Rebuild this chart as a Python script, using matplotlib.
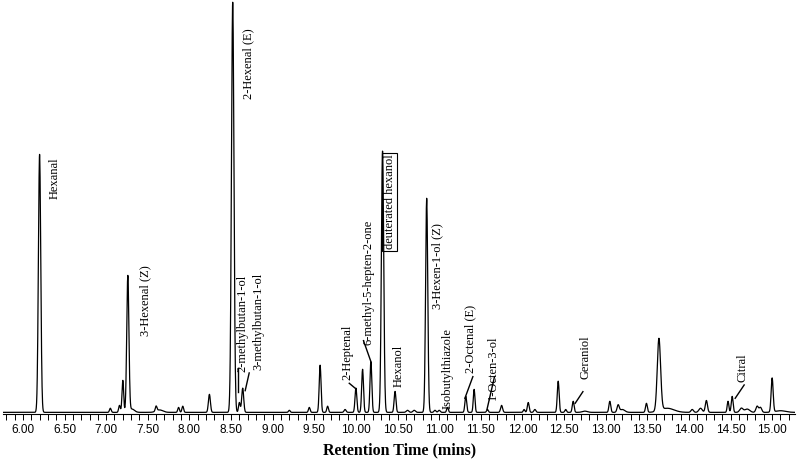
import numpy as np
import matplotlib
matplotlib.use("Agg")
import matplotlib.pyplot as plt
from matplotlib.ticker import MultipleLocator, FormatStrFormatter

# ---- data: detected peaks (retention time, relative abundance, peak sigma) ----
peak_times = [6.20, 7.05, 7.16, 7.20, 7.26, 7.31, 7.60, 7.64, 7.87, 7.92, 8.24,
              8.52, 8.60, 8.64, 9.20, 9.44, 9.57, 9.66, 9.87,
              10.00, 10.08, 10.18, 10.32, 10.47, 10.62, 10.70, 10.85, 10.95, 11.00, 11.10,
              11.32, 11.42, 11.58, 11.75, 12.02, 12.07, 12.15, 12.43, 12.52, 12.61,
              12.75, 13.05, 13.15, 13.20, 13.49, 13.64, 13.74, 14.04, 14.14, 14.21,
              14.47, 14.52, 14.63, 14.70, 14.82, 14.86, 15.00, 15.10]
peak_heights = [62.9, 1.0, 1.7, 7.8, 33.2, 0.8, 1.2, 0.6, 1.2, 1.5, 4.4,
                100.0, 2.4, 5.9, 0.5, 1.2, 11.5, 1.5, 0.7,
                5.9, 10.5, 12.4, 63.7, 5.1, 0.5, 0.5, 52.2, 0.5, 0.5, 1.2,
                3.9, 5.6, 0.7, 1.7, 0.7, 2.4, 0.7, 7.6, 0.7, 2.7,
                0.3, 2.7, 1.7, 0.7, 2.2, 17.6, 1.0, 0.7, 1.0, 2.9,
                2.7, 3.9, 1.0, 0.8, 1.5, 1.2, 8.3, 0.4]
peak_sigmas = [0.014, 0.010, 0.010, 0.010, 0.013, 0.030, 0.010, 0.040, 0.010, 0.010, 0.012,
               0.015, 0.010, 0.012, 0.010, 0.010, 0.011, 0.010, 0.012,
               0.011, 0.011, 0.011, 0.014, 0.011, 0.015, 0.015, 0.013, 0.012, 0.012, 0.010,
               0.011, 0.010, 0.010, 0.012, 0.010, 0.011, 0.012, 0.011, 0.010, 0.011,
               0.030, 0.011, 0.013, 0.030, 0.011, 0.020, 0.080, 0.015, 0.020, 0.013,
               0.010, 0.011, 0.020, 0.030, 0.015, 0.015, 0.012, 0.060]

# ---- compound labels: (name, time, top of label) ----
label_names = ["Hexanal", "3-Hexenal (Z)", "2-Hexenal (E)", "2-methylbutan-1-ol",
               "3-methylbutan-1-ol", "2-Heptenal", "6-methyl-5-hepten-2-one",
               "deuterated hexanol", "Hexanol", "3-Hexen-1-ol (Z)", "Isobutylthiazole",
               "2-Octenal (E)", "1-Octen-3-ol", "Geraniol", "Citral"]
label_times = [6.376, 7.475, 8.706, 8.634, 8.826, 9.896, 10.148, 10.405, 10.508,
               10.973, 11.097, 11.379, 11.643, 12.754, 14.646]
label_tops = [62.4, 36.1, 93.9, 33.7, 34.1, 21.5, 47.1, 63.0, 16.6,
              46.3, 20.7, 26.3, 19.0, 19.0, 14.6]

# leader lines from labels to peaks (x0, y0, x1, y1)
leaders = [(8.581, 10.98, 8.581, 5.20),
           (8.718, 9.76, 8.670, 5.44),
           (9.920, 7.24, 9.992, 6.02),
           (10.091, 17.63, 10.176, 12.76),
           (11.405, 8.86, 11.309, 3.58),
           (11.665, 8.86, 11.575, 0.9),
           (12.727, 5.20, 12.634, 2.36),
           (14.664, 6.83, 14.556, 3.58)]

# ---- build trace ----
t = np.arange(5.76, 15.28, 0.002)
signal = np.full_like(t, 0.15)
for c, h, s in zip(peak_times, peak_heights, peak_sigmas):
    signal += h * np.exp(-0.5 * ((t - c) / s) ** 2)

fig = plt.figure(figsize=(8.0, 4.62), dpi=100)
ax = fig.add_axes([0.004, 0.104, 0.990, 0.896])
ax.plot(t, signal, color="black", lw=0.9)

ax.set_xlim(5.763, 15.277)
ax.set_ylim(-0.24, 100.7)

for sp in ["top", "right", "left"]:
    ax.spines[sp].set_visible(False)
ax.spines["bottom"].set_linewidth(0.8)
ax.set_yticks([])
ax.xaxis.set_major_locator(MultipleLocator(0.5))
ax.xaxis.set_minor_locator(MultipleLocator(0.1))
ax.xaxis.set_major_formatter(FormatStrFormatter("%.2f"))
ax.tick_params(axis="x", which="both", direction="out", length=4, width=0.7,
               pad=3, labelsize=8.5)
for lab in ax.get_xticklabels():
    lab.set_fontfamily("Liberation Sans")

ax.set_xlabel("Retention Time (mins)", family="Liberation Serif",
              fontweight="bold", fontsize=11.5, labelpad=5)

serif = "Liberation Serif"
for name, x, top in zip(label_names, label_times, label_tops):
    kw = dict(rotation=90, ha="center", va="top", family=serif, fontsize=9)
    if name == "deuterated hexanol":
        kw["bbox"] = dict(boxstyle="square,pad=0.12", fc="none", ec="black", lw=0.8)
    ax.text(x, top, name, **kw)

for x0, y0, x1, y1 in leaders:
    ax.plot([x0, x1], [y0, y1], color="black", lw=1.0)

fig.savefig("out.png", dpi=100)
